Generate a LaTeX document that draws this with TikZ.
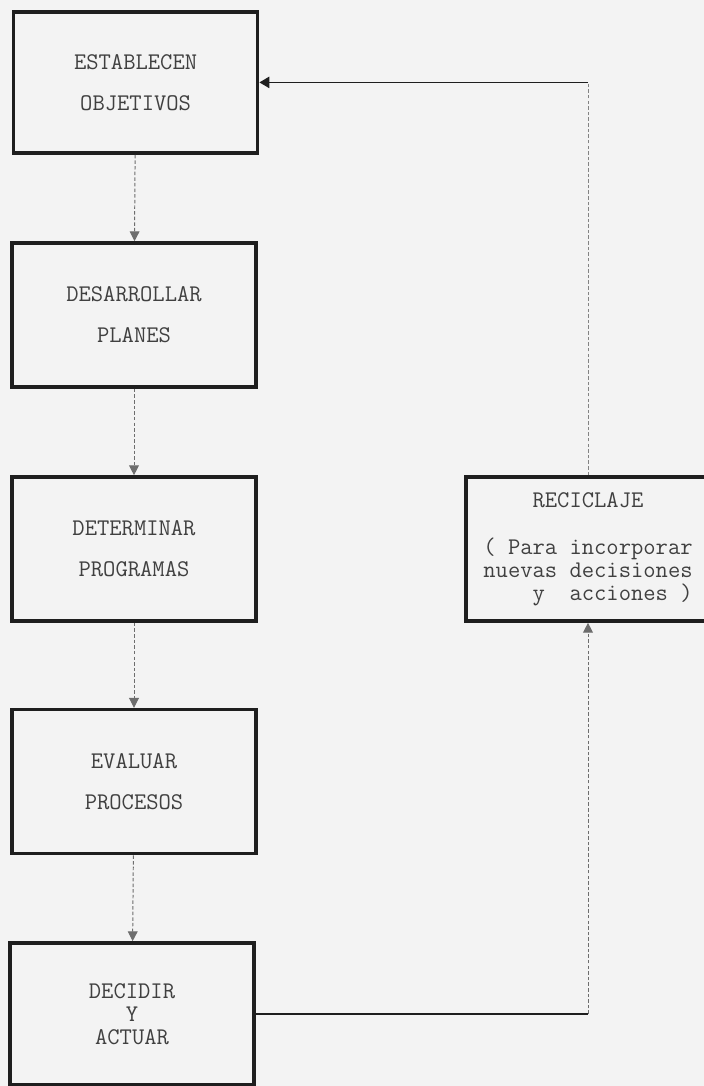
\documentclass[tikz,border=0pt]{standalone}
\usepackage{fontspec}
\usetikzlibrary{positioning,calc,arrows.meta}

\definecolor{papel}{HTML}{F3F3F3}
\definecolor{tinta}{HTML}{1E1E1E}
\newcommand{\letra}{\ttfamily\fontsize{17}{29}\selectfont}
\newcommand{\letrajunta}{\ttfamily\fontsize{17}{16.5}\selectfont}
\newcommand{\letrarec}{\ttfamily\fontsize{17}{16.5}\selectfont}

\tikzset{
	caja/.style={draw=tinta, line width=2.6pt, minimum width=6.1cm, minimum height=3.6cm,
		inner sep=0pt, align=center, text=tinta!85, font=\letra},
	flecha/.style={draw=tinta!65, line width=0.7pt, dash pattern=on 2.5pt off 1.5pt,
		-{Triangle[width=7pt,length=7pt]}},
	punteada/.style={draw=tinta!55, line width=0.6pt, dash pattern=on 2.5pt off 1.5pt},
	linea/.style={draw=tinta, line width=1.1pt}
}

\begin{document}
\begin{tikzpicture}
		\useasboundingbox (0,0) rectangle (17.6,-27.15);
		\fill[papel] (0,0) rectangle (17.6,-27.15);
		\clip (0,0) rectangle (17.6,-27.15);
		% cajas de la izquierda
		\node[caja, minimum height=3.53cm] (establecer) at (3.39,-2.06) {ESTABLECEN\\OBJETIVOS};
		\node[caja] (desarrollar) at (3.35,-7.875) {DESARROLLAR\\PLANES};
		\node[caja] (determinar) at (3.35,-13.725) {DETERMINAR\\PROGRAMAS};
		\node[caja] (evaluar) at (3.35,-19.54) {EVALUAR\\PROCESOS};
		\node[caja, minimum height=3.55cm, font=\letrajunta] (decidir) at (3.3,-25.35) {DECIDIR\\Y\\ACTUAR};
		% caja de reciclaje
		\node[caja, font=\letrarec] (reciclaje) at (14.7,-13.725)
			{RECICLAJE\\[17pt]( Para incorporar\\nuevas decisiones\\\phantom{xxxx}y\ \ acciones )};
		\draw[flecha] (establecer) -- (desarrollar);
		\draw[flecha] (desarrollar) -- (determinar);
		\draw[flecha] (determinar) -- (evaluar);
		\draw[flecha] (evaluar) -- (decidir);
		\coordinate (abajo) at (reciclaje.south |- decidir.east);
		\coordinate (arriba) at (reciclaje.north |- establecer.east);
		\draw[linea] (decidir.east) -- (abajo);
		\draw[flecha] (abajo) -- (reciclaje.south);
		\draw[punteada] (reciclaje.north) -- (arriba);
		\draw[linea, -{Triangle[width=8pt,length=7pt]}] (arriba) -- (establecer.east);
	\end{tikzpicture}
\end{document}
